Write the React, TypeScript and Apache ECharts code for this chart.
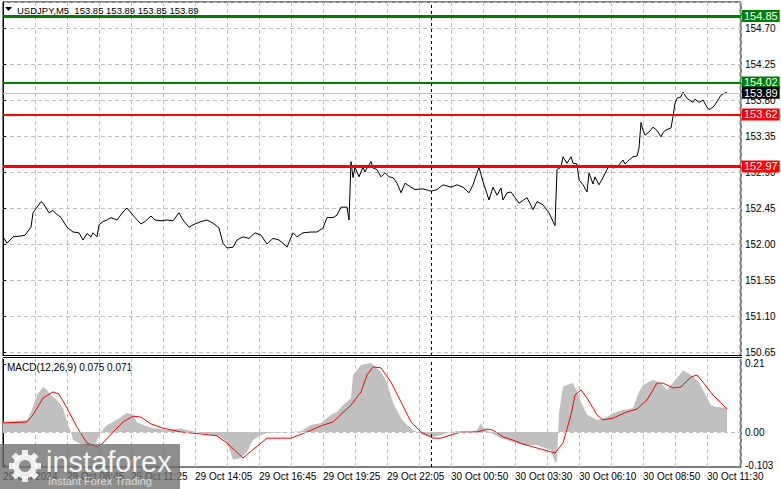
import React, { useEffect, useRef } from "react";
import * as echarts from "echarts";

// ---- time axis (bar index, M5 bars, one label every 32 bars) ----
const timeLabels = [
  "29 Oct 2024", "29 Oct 08:45", "29 Oct 11:25", "29 Oct 14:05", "29 Oct 16:45", "29 Oct 19:25",
  "29 Oct 22:05", "30 Oct 00:50", "30 Oct 03:30", "30 Oct 06:10", "30 Oct 08:50", "30 Oct 11:30",
];
const barsOnScreen = 369;
const gridEveryBars = 16;
const labelEveryBars = 32;
const daySeparatorBar = 214;

// ---- price axis ----
const priceTickStart = 150.65; // lowest labelled price
const priceStep = 0.45;
const priceBottom = 150.6;
const priceTop = 155.025;

// ---- price line (bar index, close) ----
const priceBars = [
  0, 2, 5, 9, 11, 14, 15, 19, 20, 23, 25, 26, 29, 32, 35, 38, 40, 42, 44, 45, 47, 48, 50, 52, 54, 57, 60, 62, 65, 66,
  69, 71, 74, 76, 79, 82, 85, 88, 90, 93, 95, 99, 102, 105, 108, 110, 112, 115, 117, 120, 123, 126, 129, 132, 135,
  138, 140, 142, 145, 147, 150, 154, 157, 160, 162, 165, 167, 169, 170, 172, 173, 174, 175, 176, 178, 180, 181, 182,
  184, 185, 187, 189, 191, 193, 195, 197, 199, 201, 204, 206, 210, 214, 217, 220, 224, 227, 230, 233, 235, 238, 240,
  243, 245, 247, 249, 250, 252, 254, 256, 258, 262, 265, 267, 270, 273, 275, 276, 277, 279, 280, 282, 284, 285, 287,
  288, 290, 292, 293, 295, 296, 298, 300, 302, 303, 305, 307, 310, 311, 313, 315, 317, 318, 319, 320, 321, 323, 325,
  327, 329, 330, 331, 334, 335, 336, 337, 339, 340, 342, 345, 346, 348, 350, 352, 353, 355, 356, 359, 361, 362,
];
const priceClose = [
  152.09, 152.01, 152.09, 152.1, 152.11, 152.21, 152.39, 152.53, 152.51, 152.39, 152.42, 152.39, 152.33, 152.21,
  152.15, 152.14, 152.05, 152.13, 152.09, 152.14, 152.09, 152.24, 152.28, 152.3, 152.33, 152.3, 152.4, 152.45,
  152.36, 152.33, 152.25, 152.28, 152.35, 152.3, 152.29, 152.3, 152.29, 152.39, 152.3, 152.21, 152.24, 152.28,
  152.3, 152.26, 152.2, 152.01, 151.95, 151.96, 152.05, 152.09, 152.07, 152.14, 152.11, 152.0, 152.07, 152.05,
  152.01, 151.96, 152.14, 152.09, 152.14, 152.15, 152.15, 152.2, 152.33, 152.33, 152.36, 152.46, 152.46, 152.46,
  152.3, 153.03, 152.83, 152.96, 152.84, 152.96, 152.9, 152.95, 153.03, 152.95, 152.93, 152.84, 152.89, 152.84,
  152.83, 152.76, 152.64, 152.76, 152.71, 152.68, 152.69, 152.66, 152.68, 152.74, 152.71, 152.74, 152.71, 152.64,
  152.74, 152.96, 152.78, 152.55, 152.71, 152.61, 152.7, 152.55, 152.64, 152.65, 152.58, 152.51, 152.58, 152.43,
  152.53, 152.49, 152.39, 152.28, 152.23, 152.93, 152.96, 153.09, 153.01, 153.09, 153.01, 153.0, 152.8, 152.74,
  152.65, 152.89, 152.75, 152.84, 152.74, 152.83, 152.93, 152.98, 152.95, 152.96, 153.05, 153.0, 153.05, 153.09,
  153.1, 153.2, 153.52, 153.42, 153.36, 153.4, 153.46, 153.42, 153.34, 153.39, 153.42, 153.45, 153.59, 153.76,
  153.82, 153.84, 153.9, 153.82, 153.77, 153.81, 153.77, 153.8, 153.71, 153.68, 153.71, 153.74, 153.86, 153.89,
  153.89,
];

// ---- horizontal levels ----
const resistanceLevels = [154.85, 154.02];
const supportLevels = [153.62, 152.97];
const lastPrice = 153.89;
const headerText = "USDJPY,M5  153.85 153.89 153.85 153.89";

// ---- MACD ----
const macdLabel = "MACD(12,26,9) 0.075 0.071";
const macdTickValues = [0.21, 0, -0.103];
const macdTickLabels = ["0.21", "0.00", "-0.103"];
const macdTop = 0.2285;
const macdBottom = -0.108;

const histBars = [
  0, 12, 14, 17, 20, 21, 24, 27, 30, 32, 34, 35, 39, 43, 46, 49, 52, 55, 59, 62, 65, 67, 70, 75, 82, 89, 92, 99, 105,
  109, 112, 115, 119, 122, 125, 129, 132, 144, 149, 154, 159, 164, 167, 170, 174, 175, 179, 184, 189, 192, 195, 199,
  202, 205, 210, 215, 219, 222, 227, 232, 237, 239, 240, 244, 249, 255, 260, 267, 274, 276, 277, 278, 280, 282, 285,
  287, 289, 292, 297, 302, 305, 310, 315, 318, 320, 325, 329, 332, 337, 340, 344, 348, 350, 354, 357, 362,
];
const histValues = [
  0.032, 0.037, 0.062, 0.114, 0.139, 0.136, 0.114, 0.099, 0.074, 0.031, 0, -0.025, -0.037, -0.043, -0.037, 0, 0.022,
  0.031, 0.046, 0.059, 0.053, 0.031, 0.022, 0.012, 0.006, 0.012, 0.006, -0.003, -0.009, -0.015, -0.031, -0.086,
  -0.08, -0.062, -0.025, -0.009, -0.003, 0, 0.002, 0.022, 0.028, 0.053, 0.062, 0.083, 0.105, 0.176, 0.207, 0.213,
  0.185, 0.154, 0.09, 0.043, 0.022, 0.006, -0.009, -0.015, -0.009, -0.003, 0.003, -0.003, 0.006, 0.028, 0.015,
  -0.003, -0.019, -0.031, -0.04, -0.04, -0.056, -0.093, -0.09, 0.06, 0.14, 0.145, 0.151, 0.124, 0.093, 0.053,
  0.037, 0.046, 0.059, 0.068, 0.074, 0.124, 0.145, 0.161, 0.151, 0.13, 0.167, 0.191, 0.176, 0.154, 0.13, 0.083,
  0.077, 0.075,
];

const signalBars = [
  0, 12, 15, 20, 25, 28, 32, 37, 42, 47, 50, 55, 60, 65, 69, 74, 80, 89, 99, 107, 112, 120, 129, 132, 144, 152, 159,
  165, 174, 179, 182, 185, 189, 194, 199, 204, 209, 215, 219, 224, 229, 237, 242, 245, 250, 255, 260, 276, 280, 284,
  286, 289, 292, 297, 300, 305, 312, 317, 322, 327, 330, 335, 339, 344, 347, 350, 355, 359, 362,
];
const signalValues = [
  0.028, 0.031, 0.053, 0.105, 0.124, 0.117, 0.074, 0.015, -0.034, -0.046, -0.034, 0, 0.031, 0.049, 0.046, 0.025,
  0.012, 0, -0.006, -0.012, -0.034, -0.08, -0.034, -0.019, -0.019, 0, 0.019, 0.031, 0.083, 0.124, 0.176, 0.201,
  0.198, 0.154, 0.093, 0.031, 0, -0.019, -0.019, -0.009, 0, 0, 0.009, 0.006, -0.015, -0.025, -0.037, -0.065,
  -0.034, 0.053, 0.114, 0.13, 0.105, 0.053, 0.037, 0.043, 0.062, 0.071, 0.099, 0.151, 0.151, 0.136, 0.139, 0.17,
  0.176, 0.154, 0.114, 0.09, 0.071,
];

const FONT = "Liberation Sans, Arial, sans-serif";
const GRID_LINE = { color: "#c0c0c0", type: [4, 3] as any, width: 1 };

export default function App() {
  const ref = useRef<HTMLDivElement>(null);

  useEffect(() => {
    const chart = echarts.init(ref.current!, null, { renderer: "svg" });

    const xBase = {
      type: "value",
      min: 0,
      max: barsOnScreen,
      interval: gridEveryBars,
      axisLine: { show: false },
      axisTick: { show: false },
      splitLine: { show: true, lineStyle: GRID_LINE },
    };

    const levelLabel = (bg: string) => ({
      show: true,
      position: "end",
      distance: 1,
      color: "#fff",
      backgroundColor: bg,
      fontFamily: FONT,
      fontSize: 11,
      padding: [1, 2, 0, 2],
      formatter: (p: any) => Number(p.value).toFixed(2),
    });

    const levelLines: any[] = [
      ...resistanceLevels.map((v, i) => ({
        yAxis: v,
        lineStyle: { color: "#008000", width: i === 0 ? 3 : 2, type: "solid" },
        label: levelLabel("#008000"),
      })),
      ...supportLevels.map((v, i) => ({
        yAxis: v,
        lineStyle: { color: "#ff0000", width: i === 0 ? 2 : 3, type: "solid" },
        label: levelLabel("#ff0000"),
      })),
      {
        yAxis: lastPrice,
        lineStyle: { color: "#c0c0c0", width: 1, type: "solid" },
        label: levelLabel("#000000"),
      },
      {
        xAxis: daySeparatorBar,
        lineStyle: { color: "#000", width: 1, type: [3, 3] },
        label: { show: false },
      },
    ];

    const gearTeeth = Array.from({ length: 8 }, (_, k) => ({
      type: "rect",
      x: 25,
      y: 466,
      rotation: (k * Math.PI) / 4,
      shape: { x: -3, y: -16, width: 6, height: 6 },
      style: { fill: "rgba(255,255,255,0.85)" },
      z: 101,
    }));

    const option: any = {
      animation: false,
      backgroundColor: "#fff",
      textStyle: { fontFamily: FONT },
      grid: [
        { left: 3, top: 2, width: 738, height: 354, show: true, borderColor: "#000", borderWidth: 1 },
        { left: 3, top: 358, width: 738, height: 109, show: true, borderColor: "#000", borderWidth: 1 },
        // price scale grid: 150.65 sits 4px above the panel bottom
        { left: 3, top: 2, width: 738, height: 350, show: false },
      ],
      xAxis: [
        { ...xBase, gridIndex: 0, axisLabel: { show: false } },
        {
          ...xBase,
          gridIndex: 1,
          axisLabel: {
            show: true,
            align: "left",
            margin: 4,
            color: "#000",
            fontFamily: FONT,
            fontSize: 10,
            showMaxLabel: true,
            formatter: (v: number) =>
              v % labelEveryBars === 0 ? timeLabels[v / labelEveryBars] ?? "" : "",
          },
        },
        { ...xBase, gridIndex: 2, show: false, splitLine: { show: false } },
      ],
      yAxis: [
        {
          type: "value",
          gridIndex: 0,
          position: "right",
          min: priceBottom,
          max: priceTop,
          axisLine: { show: true, lineStyle: { color: "#000" } },
          axisTick: { show: false },
          axisLabel: { show: false },
          splitLine: { show: false },
        },
        {
          type: "value",
          gridIndex: 1,
          position: "right",
          min: macdBottom,
          max: macdTop,
          axisLine: { show: true, lineStyle: { color: "#000" } },
          axisTick: { show: true, length: 3, customValues: macdTickValues, lineStyle: { color: "#000" } },
          axisLabel: {
            color: "#000",
            fontFamily: FONT,
            fontSize: 10,
            margin: 4,
            customValues: macdTickValues,
            formatter: (v: number) => {
              const i = macdTickValues.findIndex((t) => Math.abs(t - v) < 1e-9);
              return i >= 0 ? macdTickLabels[i] : "";
            },
          },
          splitLine: { show: false },
        },
        {
          type: "value",
          gridIndex: 2,
          position: "right",
          min: priceTickStart,
          max: priceTickStart + (priceTop - priceBottom) * (350 / 354),
          interval: priceStep,
          axisLine: { show: false },
          axisTick: { show: true, length: 3, lineStyle: { color: "#000" } },
          axisLabel: {
            color: "#000",
            fontFamily: FONT,
            fontSize: 10,
            margin: 4,
            showMaxLabel: false,
            formatter: (v: number) => v.toFixed(2),
          },
          splitLine: { show: true, lineStyle: GRID_LINE },
        },
      ],
      series: [
        {
          type: "line",
          name: "price",
          xAxisIndex: 0,
          yAxisIndex: 0,
          data: priceBars.map((b, i) => [b, priceClose[i]]),
          symbol: "none",
          lineStyle: { color: "#000", width: 1 },
          z: 3,
          markLine: {
            silent: true,
            symbol: ["none", "none"],
            precision: 2,
            data: levelLines,
          },
        },
        {
          type: "line",
          name: "histogram",
          xAxisIndex: 1,
          yAxisIndex: 1,
          data: histBars.map((b, i) => [b, histValues[i]]),
          symbol: "none",
          lineStyle: { width: 0, color: "#c0c0c0" },
          areaStyle: { color: "#c0c0c0", opacity: 1 },
          z: 2,
          markLine: {
            silent: true,
            symbol: ["none", "none"],
            label: { show: false },
            data: [
              { yAxis: 0, lineStyle: { color: "#c0c0c0", type: [4, 3], width: 1 } },
            ],
          },
        },
        {
          type: "line",
          name: "signal",
          xAxisIndex: 1,
          yAxisIndex: 1,
          data: signalBars.map((b, i) => [b, signalValues[i]]),
          symbol: "none",
          lineStyle: { color: "#ff0000", width: 1 },
          z: 3,
          markLine: {
            silent: true,
            symbol: ["none", "none"],
            label: { show: false },
            data: [{ xAxis: daySeparatorBar, lineStyle: { color: "#000", type: [3, 3], width: 1 } }],
          },
        },
      ],
      graphic: [
        // crisp double line between the two panels
        {
          type: "rect",
          shape: { x: 3, y: 355, width: 739, height: 4 },
          style: { fill: "#fff" },
          z: 40,
        },
        {
          type: "line",
          shape: { x1: 3, y1: 355.5, x2: 742, y2: 355.5 },
          style: { stroke: "#000", lineWidth: 1 },
          z: 41,
        },
        {
          type: "line",
          shape: { x1: 3, y1: 357.5, x2: 742, y2: 357.5 },
          style: { stroke: "#000", lineWidth: 1 },
          z: 41,
        },
        {
          type: "polygon",
          shape: { points: [[5, 7], [12, 7], [8.5, 11]] },
          style: { fill: "#000" },
          z: 50,
        },
        {
          type: "text",
          x: 17,
          y: 10,
          style: { text: headerText, fill: "#000", font: `9.5px ${FONT}`, textVerticalAlign: "middle" },
          z: 50,
        },
        {
          type: "text",
          x: 7,
          y: 367,
          style: { text: macdLabel, fill: "#000", font: `10px ${FONT}`, textVerticalAlign: "middle" },
          z: 50,
        },
        {
          type: "rect",
          shape: { x: 0, y: 444, width: 180, height: 45 },
          style: { fill: "rgba(110,110,110,0.78)" },
          z: 100,
        },
        {
          type: "ring",
          shape: { cx: 25, cy: 466, r: 12, r0: 6 },
          style: { fill: "rgba(255,255,255,0.85)" },
          z: 101,
        },
        ...gearTeeth,
        {
          type: "text",
          x: 46,
          y: 462,
          style: {
            text: "instaforex",
            fill: "rgba(255,255,255,0.92)",
            font: `29px ${FONT}`,
            textVerticalAlign: "middle",
          },
          z: 101,
        },
        {
          type: "text",
          x: 48,
          y: 481,
          style: {
            text: "Instant Forex Trading",
            fill: "rgba(230,230,230,0.9)",
            font: `11px ${FONT}`,
            textVerticalAlign: "middle",
          },
          z: 101,
        },
      ],
    };

    chart.setOption(option);
    return () => chart.dispose();
  }, []);

  return (
    <div
      ref={ref}
      style={{ position: "fixed", left: 0, top: 0, width: 781, height: 489, background: "#fff" }}
    />
  );
}
